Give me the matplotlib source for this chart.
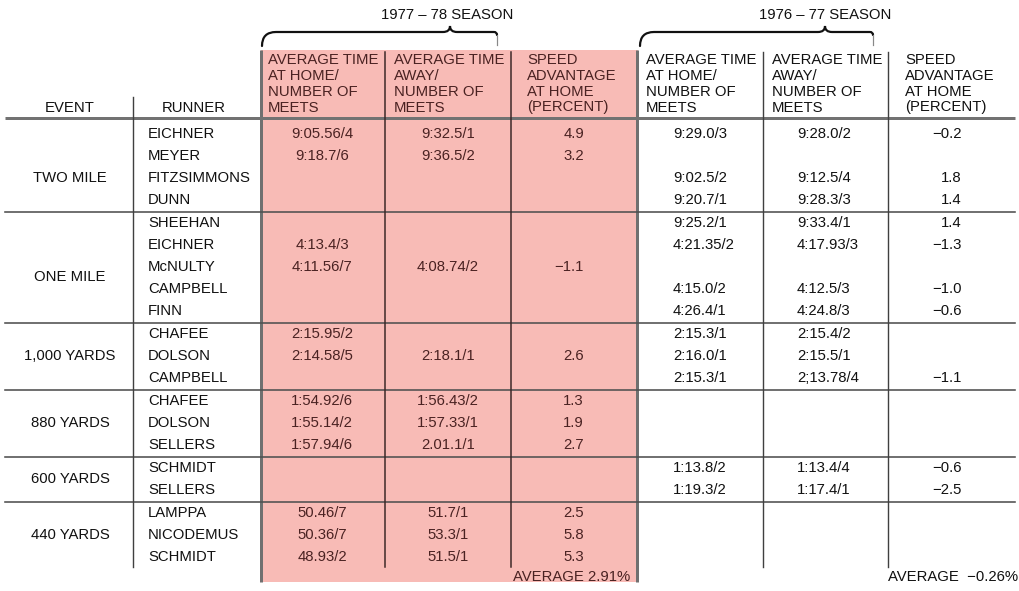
import matplotlib
matplotlib.use("Agg")
import matplotlib.pyplot as plt
from matplotlib.path import Path
from matplotlib.patches import PathPatch, Rectangle

plt.rcParams['font.family'] = ['Liberation Sans', 'DejaVu Sans']

# ---------------- data ----------------
events = ["TWO MILE", "ONE MILE", "1,000 YARDS", "880 YARDS", "600 YARDS", "440 YARDS"]
runners = [
    ["EICHNER", "MEYER", "FITZSIMMONS", "DUNN"],
    ["SHEEHAN", "EICHNER", "McNULTY", "CAMPBELL", "FINN"],
    ["CHAFEE", "DOLSON", "CAMPBELL"],
    ["CHAFEE", "DOLSON", "SELLERS"],
    ["SCHMIDT", "SELLERS"],
    ["LAMPPA", "NICODEMUS", "SCHMIDT"],
]
home_7778 = ["9:05.56/4", "9:18.7/6", "", "",
             "", "4:13.4/3", "4:11.56/7", "", "",
             "2:15.95/2", "2:14.58/5", "",
             "1:54.92/6", "1:55.14/2", "1:57.94/6",
             "", "",
             "50.46/7", "50.36/7", "48.93/2"]
away_7778 = ["9:32.5/1", "9:36.5/2", "", "",
             "", "", "4:08.74/2", "", "",
             "", "2:18.1/1", "",
             "1:56.43/2", "1:57.33/1", "2.01.1/1",
             "", "",
             "51.7/1", "53.3/1", "51.5/1"]
adv_7778 = ["4.9", "3.2", "", "",
            "", "", "\u22121.1", "", "",
            "", "2.6", "",
            "1.3", "1.9", "2.7",
            "", "",
            "2.5", "5.8", "5.3"]
home_7677 = ["9:29.0/3", "", "9:02.5/2", "9:20.7/1",
             "9:25.2/1", "4:21.35/2", "", "4:15.0/2", "4:26.4/1",
             "2:15.3/1", "2:16.0/1", "2:15.3/1",
             "", "", "",
             "1:13.8/2", "1:19.3/2",
             "", "", ""]
away_7677 = ["9:28.0/2", "", "9:12.5/4", "9:28.3/3",
             "9:33.4/1", "4:17.93/3", "", "4:12.5/3", "4:24.8/3",
             "2:15.4/2", "2:15.5/1", "2;13.78/4",
             "", "", "",
             "1:13.4/4", "1:17.4/1",
             "", "", ""]
adv_7677 = ["\u22120.2", "", "1.8", "1.4",
            "1.4", "\u22121.3", "", "\u22121.0", "\u22120.6",
            "", "", "\u22121.1",
            "", "", "",
            "\u22120.6", "\u22122.5",
            "", "", ""]
season_labels = ["1977 \u2013 78 SEASON", "1976 \u2013 77 SEASON"]
col_headers = [
    ["AVERAGE TIME", "AT HOME/", "NUMBER OF", "MEETS"],
    ["AVERAGE TIME", "AWAY/", "NUMBER OF", "MEETS"],
    ["SPEED", "ADVANTAGE", "AT HOME", "(PERCENT)"],
    ["AVERAGE TIME", "AT HOME/", "NUMBER OF", "MEETS"],
    ["AVERAGE TIME", "AWAY/", "NUMBER OF", "MEETS"],
    ["SPEED", "ADVANTAGE", "AT HOME", "(PERCENT)"],
]
averages = ["AVERAGE 2.91%", "AVERAGE  \u22120.26%"]

# ---------------- layout ----------------
W, H = 1020, 591
fig = plt.figure(figsize=(W / 100, H / 100), dpi=100)
ax = fig.add_axes([0, 0, 1, 1])
ax.set_xlim(0, W)
ax.set_ylim(H, 0)
ax.axis('off')

FS = 10.7
BLACK = '#111111'
MAROON = '#4a2222'
PINK = '#f8bbb6'
px = 0.72  # points per pixel

# pink background for 1977-78 season
ax.add_patch(Rectangle((261, 50), 377, 532, facecolor=PINK, edgecolor='none', zorder=0))
for xe in (261, 637):
    ax.plot([xe, xe], [50, 582], color='#707070', lw=3 * px, zorder=2, solid_capstyle='butt')

# row positions
y0, step, gap = 133.5, 21.9, 1.3
row_y = []
group_rows = []
i = 0
for g, rs in enumerate(runners):
    idx = []
    for _ in rs:
        row_y.append(y0 + step * i + gap * g)
        idx.append(i)
        i += 1
    group_rows.append(idx)

def put(x, y, s, ha='left', color=BLACK, size=FS, weight='normal'):
    if s:
        ax.text(x, y + 5, s, ha=ha, va='baseline', fontsize=size, color=color,
                fontweight=weight, zorder=5)

# header line
ax.plot([5, 1015], [118, 118], color='#727272', lw=3 * px, zorder=3, solid_capstyle='butt')

# group separators
for g in range(len(runners) - 1):
    last = row_y[group_rows[g][-1]]
    nxt = row_y[group_rows[g + 1][0]]
    ys = (last + nxt) / 2 + 1.5
    ax.plot([5, 1015], [ys, ys], color='#505050', lw=1.6 * px, zorder=3)

# vertical lines
ax.plot([133, 133], [97, 567], color='#404040', lw=1.4 * px, zorder=3)
for xv in (385, 511):
    ax.plot([xv, xv], [52, 567], color='#3a2626', lw=1.5 * px, zorder=3)
for xv in (763, 888):
    ax.plot([xv, xv], [52, 567], color='#404040', lw=1.4 * px, zorder=3)

# season brackets
def bracket(xl, xp, xr):
    verts = [(xl, 46), (xl, 32), (xl + 14, 32), (xp - 7, 32), (xp, 32), (xp, 26),
             (xp, 32), (xp + 7, 32), (xr - 3, 32), (xr, 32), (xr, 35)]
    codes = [Path.MOVETO, Path.CURVE3, Path.CURVE3, Path.LINETO, Path.CURVE3, Path.CURVE3,
             Path.CURVE3, Path.CURVE3, Path.LINETO, Path.CURVE3, Path.CURVE3]
    ax.add_patch(PathPatch(Path(verts, codes), facecolor='none', edgecolor=BLACK,
                           lw=2.2 * px, zorder=4, capstyle='round'))
    ax.plot([xr, xr], [35, 45], color='#888888', lw=1.2 * px, zorder=4)

bracket(262, 450, 497)
bracket(640, 825, 873)
put(447, 14, season_labels[0], ha='center')
put(825, 14, season_labels[1], ha='center')

# column headers
hdr_x = [268, 394, 527, 646, 772, 905]
hdr_y = [59.5, 75.5, 90.5, 106.5]
for c, lines in enumerate(col_headers):
    col = MAROON if c < 3 else BLACK
    for ln, yy in zip(lines, hdr_y):
        put(hdr_x[c], yy, ln, color=col)
put(70, 106.5, "EVENT", ha='center')
put(194, 106.5, "RUNNER", ha='center')

# event labels
label_shift = [11, 10, 0, 0, 0, 0]
for g, ev in enumerate(events):
    ys = [row_y[k] for k in group_rows[g]]
    put(70, sum(ys) / len(ys) + label_shift[g], ev, ha='center')

# runners and values
flat_runners = [r for rs in runners for r in rs]
for k, name in enumerate(flat_runners):
    y = row_y[k]
    put(148, y, name)
    put(322, y, home_7778[k], ha='center', color=MAROON)
    put(448, y, away_7778[k], ha='center', color=MAROON)
    put(584, y, adv_7778[k], ha='right', color=MAROON)
    put(673, y, home_7677[k])
    put(797, y, away_7677[k])
    put(962, y, adv_7677[k], ha='right')

# averages
put(513, 576, averages[0], color=MAROON)
put(888, 576, averages[1])

fig.savefig("out.png", dpi=100)
